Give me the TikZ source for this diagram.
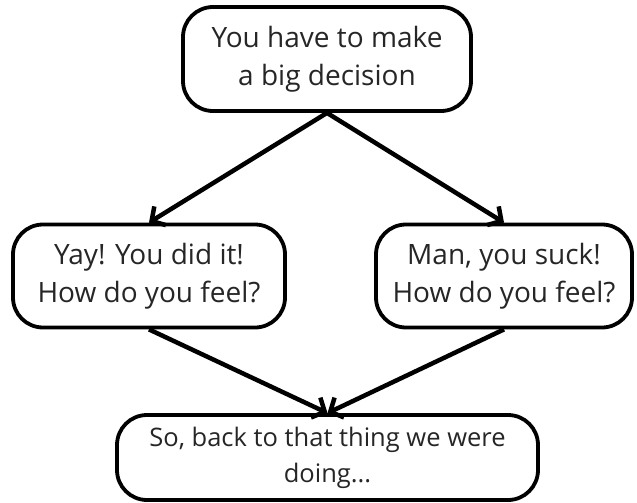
\documentclass[tikz,border=0pt]{standalone}
\usepackage{fontspec}
\setmainfont{Open Sans}
\usetikzlibrary{arrows.meta}
\tikzset{
  box/.style={draw=black, line width=3.8pt, rounded corners=30pt, fill=white,
    align=center, inner sep=0pt, text=black!85, font=\fontsize{28}{38}\selectfont},
  conn/.style={draw=black, line width=4.5pt,
    -{Straight Barb[length=10pt,width=22pt,line width=4.5pt]}}
}
\begin{document}
\begin{tikzpicture}[x=1pt,y=-1pt]
\useasboundingbox (0,0) rectangle (637,503);
\node[box, minimum width=288pt, minimum height=104pt] (top) at (327,59) {You have to make\\a big decision};
\node[box, minimum width=272pt, minimum height=103pt] (left) at (149,276) {Yay! You did it!\\How do you feel?};
\node[box, minimum width=256pt, minimum height=103pt] (right) at (504,276) {Man, you suck!\\How do you feel?};
\node[box, minimum width=421pt, minimum height=85pt, font=\fontsize{25.5}{36}\selectfont] (bottom) at (327.5,457.5) {So, back to that thing we were\\doing...};
\draw[conn] (top.south) -- (left.north);
\draw[conn] (top.south) -- (right.north);
\draw[conn] (left.south) -- (bottom.north);
\draw[conn] (right.south) -- (bottom.north);
\end{tikzpicture}
\end{document}
